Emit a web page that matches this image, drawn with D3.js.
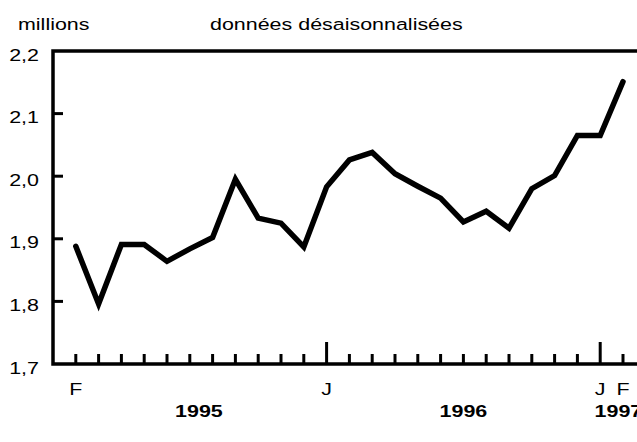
<!DOCTYPE html>
<html>
<head>
<meta charset="utf-8">
<script src="https://cdn.jsdelivr.net/npm/d3@7"></script>
<style>
  body { margin: 0; background: #fff; }
  text { font-family: "Liberation Sans", Arial, sans-serif; font-size: 16.5px; fill: #000; }
</style>
</head>
<body>
<script>
// months counted from Feb 1995 (0) to Feb 1997 (24)
const values = [1.888, 1.796, 1.891, 1.891, 1.864, 1.884, 1.902, 1.995, 1.933, 1.925, 1.887,
                1.983, 2.026, 2.038, 2.004, 1.984, 1.965, 1.927, 1.944, 1.917, 1.980, 2.001,
                2.065, 2.065, 2.151];
const yTicks = [1.7, 1.8, 1.9, 2.0, 2.1, 2.2];
const monthLabels = [{m: 0, t: 'F'}, {m: 11, t: 'J'}, {m: 23, t: 'J'}, {m: 24, t: 'F'}];
const januaries = [11, 23];
const yearLabels = [{m: 5.4, t: '1995'}, {m: 17, t: '1996'}, {m: 23.8, t: '1997'}];

const width = 637, height = 442;
const sx = 1.3; // text in the picture is stretched horizontally

const x = d3.scaleLinear().domain([-1, 24]).range([53, 623]);
const y = d3.scaleLinear().domain([1.7, 2.2]).range([364, 51]);

const svg = d3.select('body').append('svg')
    .attr('width', width)
    .attr('height', height);

const label = (g, px, py, t, anchor) => g.append('text')
    .attr('transform', `translate(${px},${py}) scale(${sx},1)`)
    .attr('text-anchor', anchor || 'start')
    .text(t);

// frame: left, top, bottom
svg.append('path')
    .attr('d', `M${width},${y(2.2)}H${x(-1)}V${y(1.7)}H${width}`)
    .attr('fill', 'none')
    .attr('stroke', '#000')
    .attr('stroke-width', 3.5);

// y ticks inside
svg.selectAll('.ytick')
    .data(yTicks.filter(d => d > 1.7 && d < 2.2))
    .join('line')
    .attr('x1', x(-1)).attr('x2', x(-1) + 10)
    .attr('y1', d => y(d)).attr('y2', d => y(d))
    .attr('stroke', '#000')
    .attr('stroke-width', 3);

yTicks.forEach(d => label(svg, 39, y(d) + 9.5, d3.format('.1f')(d).replace('.', ','), 'end'));

// month ticks
svg.selectAll('.mtick')
    .data(d3.range(0, 25))
    .join('line')
    .attr('x1', d => x(d)).attr('x2', d => x(d))
    .attr('y1', y(1.7))
    .attr('y2', d => januaries.includes(d) ? y(1.7) - 22 : y(1.7) - 10)
    .attr('stroke', '#000')
    .attr('stroke-width', 3);

monthLabels.forEach(d => label(svg, x(d.m), 395, d.t, 'middle'));
yearLabels.forEach(d => label(svg, x(d.m), 417, d.t, 'middle').attr('font-weight', 'bold'));

label(svg, 18, 29.5, 'millions');
label(svg, 210, 29.5, 'données désaisonnalisées');

const line = d3.line()
    .x((d, i) => x(i))
    .y(d => y(d));

svg.append('path')
    .datum(values)
    .attr('d', line)
    .attr('fill', 'none')
    .attr('stroke', '#000')
    .attr('stroke-width', 5.5)
    .attr('stroke-linejoin', 'miter')
    .attr('stroke-linecap', 'round');
</script>
</body>
</html>
